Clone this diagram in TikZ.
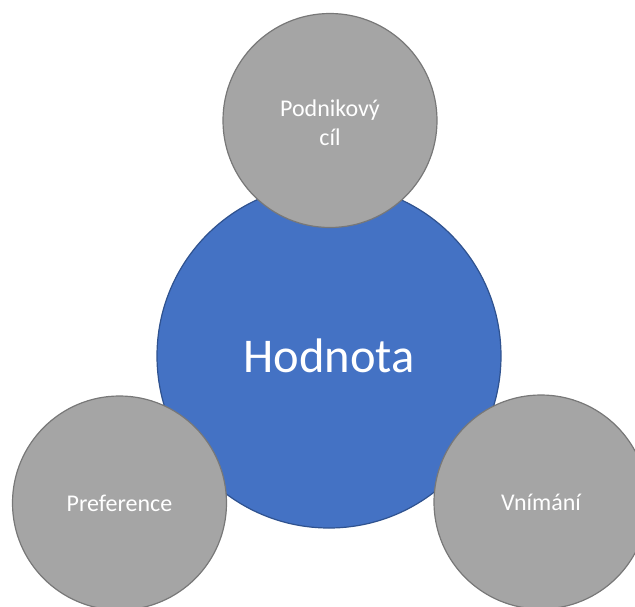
\documentclass[tikz,border=0pt]{standalone}
\usepackage{fontspec}
\setmainfont{Carlito}
\definecolor{coreblue}{HTML}{4472C4}
\definecolor{coreedge}{HTML}{2F528F}
\definecolor{satfill}{HTML}{A5A5A5}
\definecolor{satedge}{HTML}{787878}
\begin{document}
\begin{tikzpicture}[x=1pt,y=-1pt,
  core/.style={circle,draw=coreedge,fill=coreblue,line width=1.2pt,minimum size=344pt,inner sep=0pt,
    text=white,font=\fontsize{48.5}{58}\selectfont},
  satellite/.style={circle,draw=satedge,fill=satfill,line width=1.2pt,minimum size=214pt,inner sep=0pt,
    text=white,align=center,font=\fontsize{24}{29}\selectfont}]
  \useasboundingbox (0,0) rectangle (635,606);
  \clip (0,0) rectangle (635,606);
  % central value circle
  \node[core] (hodnota) at (329,356) {Hodnota};
  % surrounding factors
  \node[satellite] (cil) at (330,120.5) {};
  \node[white,align=center,font=\fontsize{24}{29}\selectfont] (cillabel) at (330,123) {Podnikový\\cíl};
  \node[satellite] (pref) at (119.5,503) {Preference};
  \node[satellite] (vnim) at (541,502) {Vnímání};
\end{tikzpicture}
\end{document}
